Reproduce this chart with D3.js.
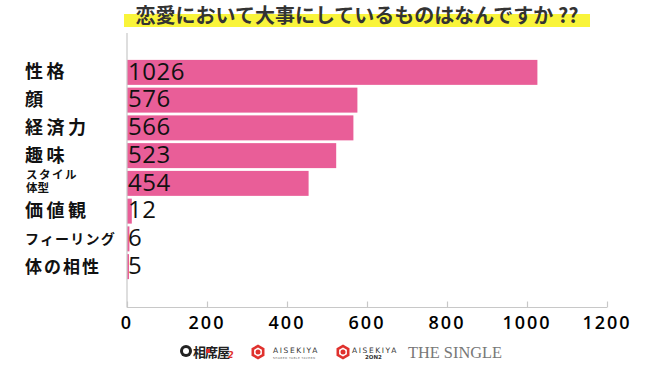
<!DOCTYPE html>
<html>
<head>
<meta charset="utf-8">
<script src="https://cdn.jsdelivr.net/npm/d3@7"></script>
<style>
  html, body { margin: 0; padding: 0; background: #fff; }
  svg { display: block; }
</style>
</head>
<body>
<svg id="chart"></svg>
<script>
// Chart data
const categories = ['性格', '顔', '経済力', '趣味', 'スタイル体型', '価値観', 'フィーリング', '体の相性'];
const values = [1026, 576, 566, 523, 454, 12, 6, 5];
const xTicks = [0, 200, 400, 600, 800, 1000, 1200];
const titleText = '恋愛において大事にしているものはなんですか ??';

const width = 650, height = 371;
const svg = d3.select('#chart').attr('width', width).attr('height', height);

const x = d3.scaleLinear().domain([0, 1200]).range([127, 607]);
const y = d3.scaleBand().domain(categories).range([58.5, 280.5])
    .paddingInner(0.1).paddingOuter(0.05);

// Title with yellow highlight
svg.append('rect')
    .attr('x', 124).attr('y', 14)
    .attr('width', 466).attr('height', 13)
    .attr('fill', '#f9f43a');
svg.append('text')
    .attr('x', 357).attr('y', 23)
    .attr('text-anchor', 'middle')
    .attr('font-family', '"Noto Sans CJK JP", sans-serif')
    .attr('font-weight', 'bold')
    .attr('font-size', 20)
    .attr('fill', '#333')
    .text(titleText);

// Bars
svg.append('g').selectAll('rect')
    .data(values)
    .enter()
    .append('rect')
    .attr('x', x(0))
    .attr('y', (d, i) => y(categories[i]))
    .attr('width', d => x(d) - x(0))
    .attr('height', y.bandwidth())
    .attr('fill', '#e95e98');

// Value labels
svg.append('g').selectAll('text')
    .data(values)
    .enter()
    .append('text')
    .attr('x', x(0) + 1)
    .attr('y', (d, i) => y(categories[i]) + 19.8)
    .attr('font-family', '"Open Sans", sans-serif')
    .attr('font-size', 24)
    .attr('letter-spacing', 0.5)
    .attr('fill', '#111')
    .text(d => d);

// Category labels
const labelFont = '"Noto Sans CJK JP", sans-serif';
const labels = svg.append('g')
    .attr('font-family', labelFont)
    .attr('font-weight', 'bold')
    .attr('fill', '#111');

categories.forEach((c, i) => {
    const cy = y(c) + y.bandwidth() / 2;
    if (c === 'スタイル体型') {
        labels.append('text')
            .attr('x', 26).attr('y', cy - 4.5)
            .attr('font-size', 11.5)
            .attr('letter-spacing', 1.5)
            .text('スタイル');
        labels.append('text')
            .attr('x', 26).attr('y', cy + 8.5)
            .attr('font-size', 11.5)
            .text('体型');
    } else if (c === 'フィーリング') {
        labels.append('text')
            .attr('x', 25).attr('y', cy + 5)
            .attr('font-size', 14)
            .attr('letter-spacing', 1.2)
            .text(c);
    } else if (c === '体の相性') {
        labels.append('text')
            .attr('x', 25).attr('y', cy + 6)
            .attr('font-size', 17)
            .attr('letter-spacing', 2)
            .text(c);
    } else {
        labels.append('text')
            .attr('x', 25).attr('y', cy + 6)
            .attr('font-size', 18)
            .attr('letter-spacing', 3.5)
            .text(c);
    }
});

// Axes
const axisColor = '#c8c8c8';
svg.append('line')
    .attr('x1', x(0)).attr('x2', x(0))
    .attr('y1', 33).attr('y2', 307.5)
    .attr('stroke', axisColor).attr('stroke-width', 1.2);

const xAxis = svg.append('g')
    .attr('transform', 'translate(0,307.5)')
    .call(d3.axisTop(x).tickValues(xTicks).tickSize(6).tickFormat(''));
xAxis.select('.domain').attr('stroke', axisColor).attr('stroke-width', 1.2)
    .attr('d', `M${x(0)},0H${x(1200)}`);
xAxis.selectAll('.tick line').attr('stroke', axisColor).attr('stroke-width', 1.2);

svg.append('g').selectAll('text')
    .data(xTicks)
    .enter()
    .append('text')
    .attr('x', d => x(d))
    .attr('y', 328.5)
    .attr('text-anchor', 'middle')
    .attr('font-family', '"Open Sans", sans-serif')
    .attr('font-size', 18)
    .attr('font-weight', 600)
    .attr('letter-spacing', 2)
    .attr('fill', '#000')
    .text(d => d);

// Footer logos (approximate)
const logos = svg.append('g');
logos.append('circle').attr('cx', 186).attr('cy', 351).attr('r', 6).attr('fill', '#222');
logos.append('circle').attr('cx', 186).attr('cy', 351).attr('r', 3).attr('fill', '#fff');
logos.append('text')
    .attr('x', 193).attr('y', 357)
    .attr('font-family', labelFont).attr('font-weight', 'bold')
    .attr('font-size', 13).attr('letter-spacing', -1)
    .attr('fill', '#222').text('相席屋');
logos.append('text')
    .attr('x', 228).attr('y', 358)
    .attr('font-family', '"DejaVu Sans", sans-serif').attr('font-style', 'italic').attr('font-weight', 'bold')
    .attr('font-size', 8).attr('fill', '#e0312d').text('2');
logos.append('rect').attr('x', 206).attr('y', 349).attr('width', 4).attr('height', 4).attr('fill', '#e0312d');

const hexPath = (cx, cy, r) => {
    const pts = d3.range(6).map(k => {
        const a = Math.PI / 6 + k * Math.PI / 3;
        return [cx + r * Math.cos(a), cy + r * Math.sin(a)];
    });
    return d3.line()(pts) + 'Z';
};
[258, 343].forEach(cx => {
    logos.append('path').attr('d', hexPath(cx, 352, 7.5)).attr('fill', '#e0312d');
    logos.append('path').attr('d', hexPath(cx, 352, 4.5)).attr('fill', '#fff');
    logos.append('circle').attr('cx', cx).attr('cy', 352).attr('r', 2.5).attr('fill', '#e0312d');
});
logos.append('text')
    .attr('x', 273).attr('y', 353)
    .attr('font-family', '"DejaVu Sans", sans-serif')
    .attr('font-size', 7.5).attr('letter-spacing', 1.6)
    .attr('fill', '#333').text('AISEKIYA');
logos.append('text')
    .attr('x', 273).attr('y', 358.5)
    .attr('font-family', '"DejaVu Sans", sans-serif')
    .attr('font-size', 2.8).attr('letter-spacing', 0.5)
    .attr('fill', '#666').text('SHARED TABLE TAVERN');
logos.append('text')
    .attr('x', 352).attr('y', 353)
    .attr('font-family', '"DejaVu Sans", sans-serif')
    .attr('font-size', 7.5).attr('letter-spacing', 1.6)
    .attr('fill', '#333').text('AISEKIYA');
logos.append('text')
    .attr('x', 365).attr('y', 359)
    .attr('font-family', '"DejaVu Sans", sans-serif').attr('font-weight', 'bold')
    .attr('font-size', 5.5)
    .attr('fill', '#333').text('2ON2');
logos.append('text')
    .attr('x', 408).attr('y', 358)
    .attr('font-family', '"Liberation Serif", serif')
    .attr('font-size', 17)
    .attr('textLength', 94).attr('lengthAdjust', 'spacingAndGlyphs')
    .attr('fill', '#777').text('THE SINGLE');
</script>
</body>
</html>
